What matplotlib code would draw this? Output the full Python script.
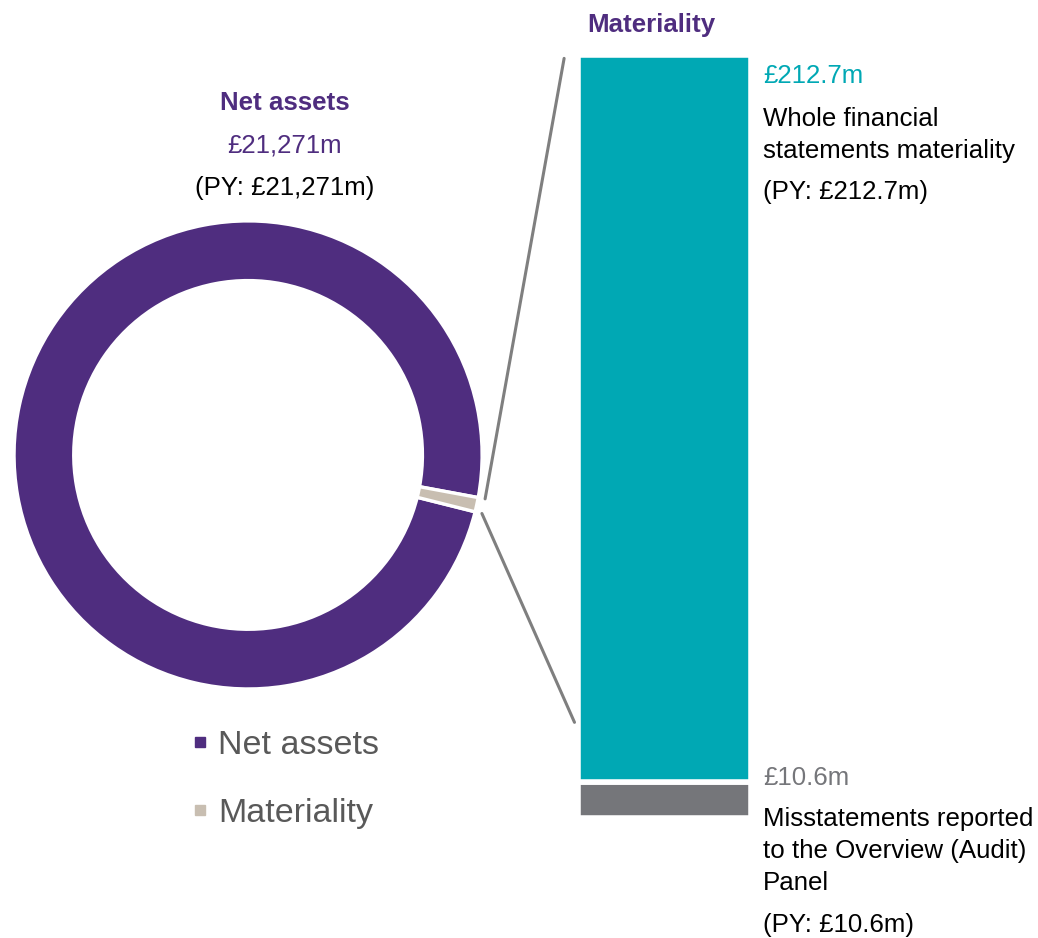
import matplotlib
matplotlib.use("Agg")
import matplotlib.pyplot as plt
from matplotlib.lines import Line2D
from matplotlib.patches import ConnectionPatch
import numpy as np

plt.rcParams['font.family'] = ['Liberation Sans', 'DejaVu Sans']

# data
donut_labels = ["Net assets", "Materiality"]
donut_values = [21271, 212.7]
bar_labels = ["Misstatements", "Materiality"]
bar_values = [10.6, 212.7]

PURPLE = "#4F2D7F"
BEIGE = "#C8BEB1"
TEAL = "#00A8B4"
GREY = "#75767A"

fig = plt.figure(figsize=(10.38, 9.38), dpi=100)

# donut
ax = fig.add_axes([0.0135, 0.2655, 0.451, 0.499])
start = -10.5
wedges, _ = ax.pie(donut_values, colors=[PURPLE, BEIGE], startangle=start,
                   counterclock=True, radius=1.0,
                   wedgeprops=dict(width=0.255, edgecolor="white", linewidth=2.4))
ax.set_xlim(-1, 1)
ax.set_ylim(-1, 1)
ax.set_aspect("equal")
ax.axis("off")

# stacked bar
bx = fig.add_axes([0.5568, 0.1279, 0.1667, 0.8135])
bx.bar(0, bar_values[0], width=1, color=GREY, edgecolor="white", linewidth=4)
bx.bar(0, bar_values[1], width=1, bottom=bar_values[0], color=TEAL,
       edgecolor="white", linewidth=4)
bx.set_xlim(-0.5, 0.5)
bx.set_ylim(0, sum(bar_values))
bx.axis("off")

# connector lines from the materiality slice to the bar
w = wedges[1]
a1, a2 = np.radians(w.theta1), np.radians(w.theta2)
r = 1.03
con1 = ConnectionPatch(xyA=(r * np.cos(a2), r * np.sin(a2)), coordsA=ax.transData,
                       xyB=(-0.58, sum(bar_values) - 1), coordsB=bx.transData,
                       color="#7F7F7F", linewidth=2.2)
con2 = ConnectionPatch(xyA=(r * np.cos(a1), r * np.sin(a1)), coordsA=ax.transData,
                       xyB=(-0.52, 28), coordsB=bx.transData,
                       color="#7F7F7F", linewidth=2.2)
fig.add_artist(con1)
fig.add_artist(con2)

# legend
handles = [Line2D([], [], marker="s", linestyle="", markersize=7, color=c)
           for c in [PURPLE, BEIGE]]
leg = fig.legend(handles, donut_labels, loc="upper left",
                 bbox_to_anchor=(0.156, 0.254), frameon=False, fontsize=24.5,
                 handlelength=0.45, handletextpad=0.3, labelspacing=1.07)
for t in leg.get_texts():
    t.set_color("#595959")

# texts
fs = 18.6
ls = 1.4
fig.text(0.627, 0.9733, "Materiality", color=PURPLE, fontsize=fs, fontweight="bold",
         ha="center", va="center")
fig.text(0.2745, 0.890, "Net assets", color=PURPLE, fontsize=fs, fontweight="bold",
         ha="center", va="center")
fig.text(0.2745, 0.8454, "£21,271m", color=PURPLE, fontsize=fs, ha="center", va="center")
fig.text(0.2745, 0.7996, "(PY: £21,271m)", color="black", fontsize=fs, ha="center", va="center")

x0 = 0.735
fig.text(x0, 0.919, "£212.7m", color=TEAL, fontsize=fs, va="center")
fig.text(x0, 0.856, "Whole financial\nstatements materiality", color="black",
         fontsize=fs, va="center", linespacing=ls)
fig.text(x0, 0.795, "(PY: £212.7m)", color="black", fontsize=fs, va="center")
fig.text(x0, 0.1706, "£10.6m", color=GREY, fontsize=fs, va="center")
fig.text(x0, 0.0928, "Misstatements reported\nto the Overview (Audit)\nPanel",
         color="black", fontsize=fs, va="center", linespacing=ls)
fig.text(x0, 0.0139, "(PY: £10.6m)", color="black", fontsize=fs, va="center")

fig.savefig("out.png", dpi=100, facecolor="white")
